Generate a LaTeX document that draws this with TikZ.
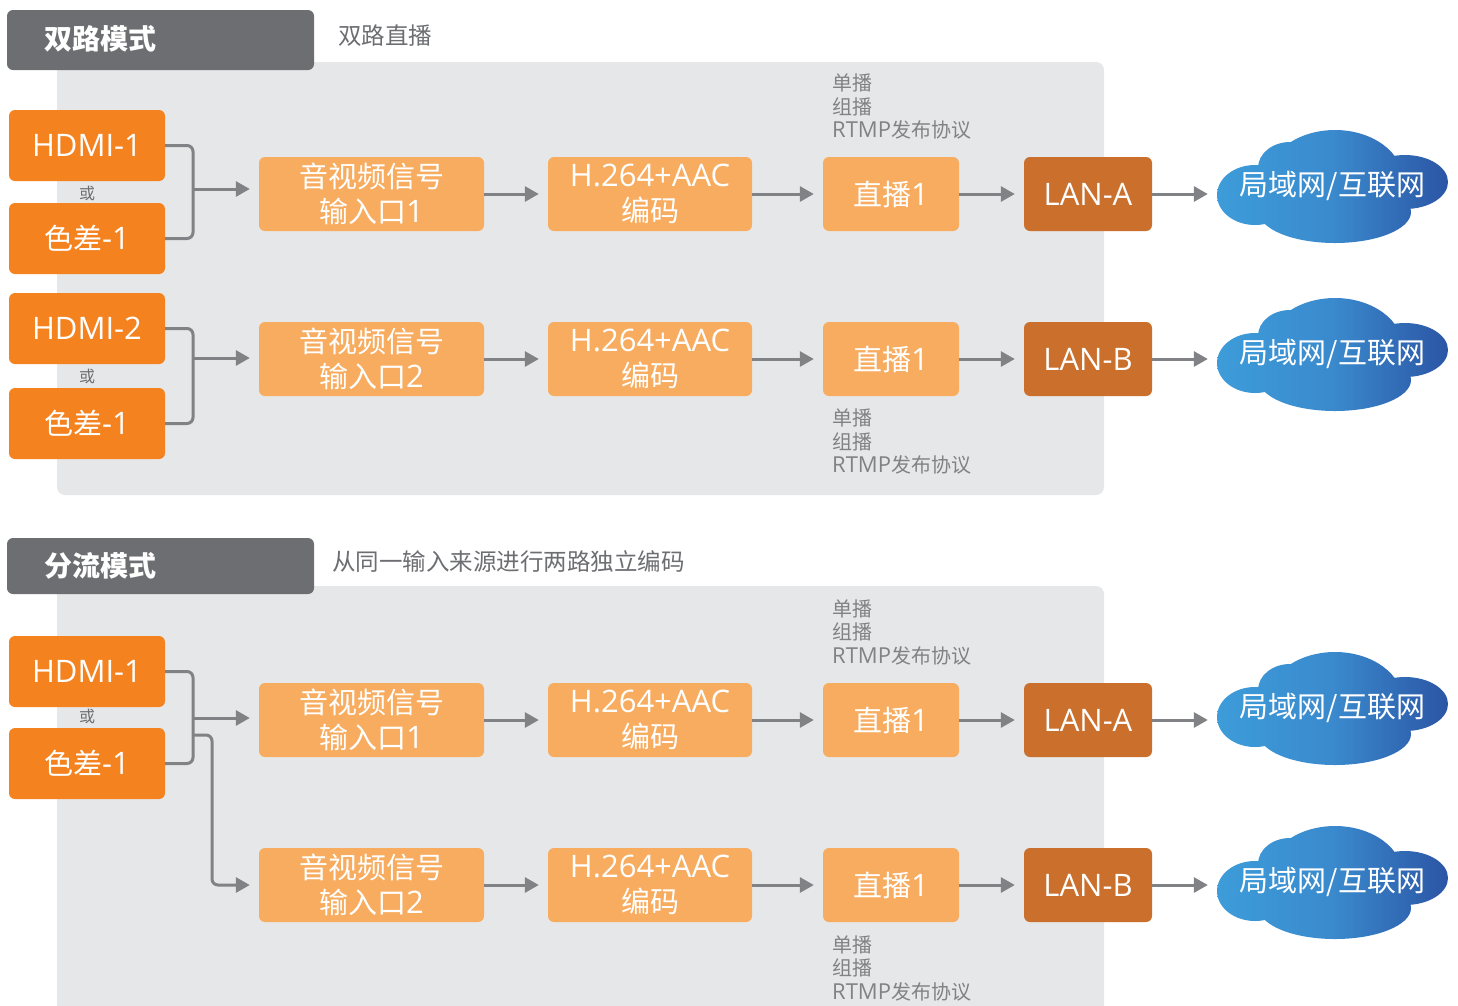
\documentclass[tikz,border=0pt]{standalone}
\usepackage{fontspec}
\setmainfont{Open Sans}
\newfontfamily\cjk{Noto Sans CJK SC}
\usetikzlibrary{arrows.meta,calc}
\definecolor{hdrgray}{HTML}{6D6E71}
\definecolor{panelgray}{HTML}{E6E7E8}
\definecolor{inorange}{HTML}{F4831F}
\definecolor{lorange}{HTML}{F7AC5F}
\definecolor{lanbrown}{HTML}{CB6F2C}
\definecolor{arrgray}{HTML}{808285}
\definecolor{lblgray}{HTML}{808285}
\definecolor{cloudL}{HTML}{3D9CD9}
\definecolor{cloudM}{HTML}{3A8ACD}
\definecolor{cloudR}{HTML}{2B55A5}
\newcommand\zh[1]{{\cjk #1}}
\newcommand\zhb[1]{{\cjk\fontsize{29}{35}\selectfont #1}}
\newcommand\zhs[1]{{\cjk\fontsize{20}{23.5}\selectfont #1}}
\tikzset{
  hdr/.style={fill=hdrgray, rounded corners=6pt},
  hdrtxt/.style={text=white, anchor=west, inner sep=0, font=\cjk\bfseries\fontsize{28}{32}\selectfont},
  captxt/.style={text=hdrgray, anchor=west, inner sep=0, font=\cjk\fontsize{23.5}{28}\selectfont},
  panel/.style={fill=panelgray, rounded corners=8pt},
  inbox/.style={fill=inorange, rounded corners=6pt, minimum width=156pt, minimum height=71pt, text=white, inner sep=0, font=\fontsize{31}{35}\selectfont},
  procbox/.style={fill=lorange, rounded corners=6pt, minimum height=74pt, text=white, inner sep=0, align=center, font=\fontsize{31}{35}\selectfont},
  lanbox/.style={fill=lanbrown, rounded corners=6pt, minimum height=74pt, minimum width=128pt, text=white, inner sep=0, font=\fontsize{31}{35}\selectfont},
  ortxt/.style={text=hdrgray, inner sep=0, font=\cjk\fontsize{16}{18}\selectfont},
  lbl/.style={text=lblgray, anchor=west, inner sep=0, align=left, font=\fontsize{22}{23.5}\selectfont},
  cloudtxt/.style={text=white, inner sep=0, minimum width=231pt, font=\cjk\fontsize{29}{33}\selectfont},
  arr/.style={draw=arrgray, line width=3pt, -{Triangle[length=14pt,width=15pt]}, shorten >=9pt},
  brk/.style={draw=arrgray, line width=3pt, rounded corners=6pt},
  pics/netcloud/.style={code={
    \shade[left color=cloudL, right color=cloudR, middle color=cloudM]
      (-77.5,9) ellipse [x radius=38pt, y radius=30pt]
      (2.5,-6) ellipse [x radius=68pt, y radius=50pt]
      (-42.5,-18) ellipse [x radius=32pt, y radius=26pt]
      (72.5,-4) ellipse [x radius=43pt, y radius=27pt]
      (2.5,26) ellipse [x radius=76pt, y radius=31pt];
  }}
}
\begin{document}
\begin{tikzpicture}[x=1pt,y=-1pt]
\path[use as bounding box] (0,0) rectangle (1458,1005);
\clip (0,0) rectangle (1458,1005);

% panels
\path[panel] (57,62) rectangle (1104,495);
\path[panel] (57,586) rectangle (1104,1030);

% headers
\path[hdr] (7,10) rectangle (314,70);
\node[hdrtxt] (hd1) at (44,39) {双路模式};
\node[captxt] (cp1) at (338,36) {双路直播};
\path[hdr] (7,538) rectangle (314,594);
\node[hdrtxt] (hd2) at (44,566) {分流模式};
\node[captxt] (cp2) at (332,562) {从同一输入来源进行两路独立编码};

% ===== section 1 =====
\node[inbox] (h1) at (87,145.5) {HDMI-1};
\node[ortxt] (o1) at (87,193) {或};
\node[inbox] (c1) at (87,238.5) {\zhb{色差}-1};
\node[inbox] (h2) at (87,328.5) {HDMI-2};
\node[ortxt] (o2) at (87,376) {或};
\node[inbox] (c2) at (87,423.5) {\zhb{色差}-1};

\node[procbox, minimum width=225pt] (a1) at (371.5,194) {\zhb{音视频信号}\\\zhb{输入口}1};
\node[procbox, minimum width=204pt] (e1) at (650,194) {H.264+AAC\\\zhb{编码}};
\node[procbox, minimum width=136pt] (l1) at (891,194) {\zhb{直播}1};
\node[lanbox] (n1) at (1088,194) {LAN-A};
\pic at (1332.5,186) {netcloud};
\node[cloudtxt] (k1) at (1332.5,186) {局域网/互联网};

\node[procbox, minimum width=225pt] (a2) at (371.5,359) {\zhb{音视频信号}\\\zhb{输入口}2};
\node[procbox, minimum width=204pt] (e2) at (650,359) {H.264+AAC\\\zhb{编码}};
\node[procbox, minimum width=136pt] (l2) at (891,359) {\zhb{直播}1};
\node[lanbox] (n2) at (1088,359) {LAN-B};
\pic at (1332.5,354) {netcloud};
\node[cloudtxt] (k2) at (1332.5,354) {局域网/互联网};

\node[lbl] (t1) at (832,106.5) {\zhs{单播}\\\zhs{组播}\\RTMP\zhs{发布协议}};
\node[lbl] (t2) at (832,441.5) {\zhs{单播}\\\zhs{组播}\\RTMP\zhs{发布协议}};

\coordinate (j1) at (193,189);
\coordinate (j2) at (193,358);
\draw[brk] (h1.east) -| (j1) |- (c1.east);
\draw[brk] (h2.east) -| (j2) |- (c2.east);
\draw[arr] (j1) -- (j1 -| a1.west);
\draw[arr] (j2) -- (j2 -| a2.west);
\foreach \r in {1,2}{
  \draw[arr] (a\r.east) -- (e\r.west);
  \draw[arr] (e\r.east) -- (l\r.west);
  \draw[arr] (l\r.east) -- (n\r.west);
  \draw[arr] (n\r.east) -- (n\r.east -| k\r.west);
}

% ===== section 2 =====
\node[inbox] (h3) at (87,671.5) {HDMI-1};
\node[ortxt] (o3) at (87,716) {或};
\node[inbox] (c3) at (87,763.5) {\zhb{色差}-1};

\node[procbox, minimum width=225pt] (a3) at (371.5,720) {\zhb{音视频信号}\\\zhb{输入口}1};
\node[procbox, minimum width=204pt] (e3) at (650,720) {H.264+AAC\\\zhb{编码}};
\node[procbox, minimum width=136pt] (l3) at (891,720) {\zhb{直播}1};
\node[lanbox] (n3) at (1088,720) {LAN-A};
\pic at (1332.5,708) {netcloud};
\node[cloudtxt] (k3) at (1332.5,708) {局域网/互联网};

\node[procbox, minimum width=225pt] (a4) at (371.5,885) {\zhb{音视频信号}\\\zhb{输入口}2};
\node[procbox, minimum width=204pt] (e4) at (650,885) {H.264+AAC\\\zhb{编码}};
\node[procbox, minimum width=136pt] (l4) at (891,885) {\zhb{直播}1};
\node[lanbox] (n4) at (1088,885) {LAN-B};
\pic at (1332.5,882) {netcloud};
\node[cloudtxt] (k4) at (1332.5,882) {局域网/互联网};

\node[lbl] (t3) at (832,632) {\zhs{单播}\\\zhs{组播}\\RTMP\zhs{发布协议}};
\node[lbl] (t4) at (832,968) {\zhs{单播}\\\zhs{组播}\\RTMP\zhs{发布协议}};

\coordinate (j3) at (193,718);
\coordinate (j3b) at (193,735);
\draw[brk] (h3.east) -| (j3) |- (c3.east);
\draw[arr] (j3) -- (j3 -| a3.west);
\draw[arr, rounded corners=6pt] (j3b) -| (212,885) -- (a4.west);
\foreach \r in {3,4}{
  \draw[arr] (a\r.east) -- (e\r.west);
  \draw[arr] (e\r.east) -- (l\r.west);
  \draw[arr] (l\r.east) -- (n\r.west);
  \draw[arr] (n\r.east) -- (n\r.east -| k\r.west);
}
\end{tikzpicture}
\end{document}
